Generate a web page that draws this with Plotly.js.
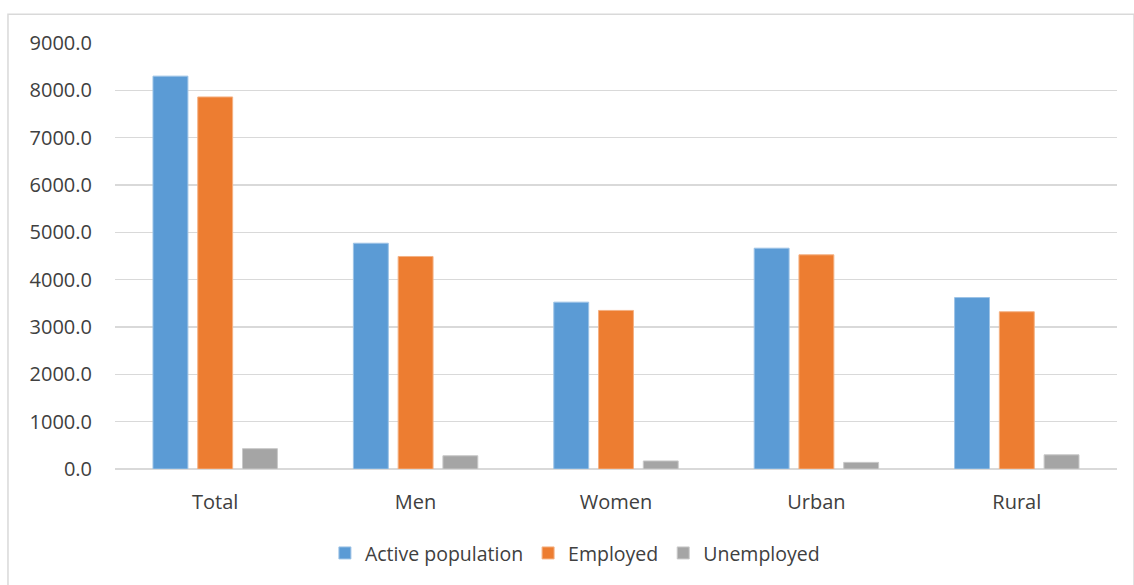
<!DOCTYPE html>
<html>
<head>
<meta charset="utf-8">
<script src="https://cdn.plot.ly/plotly-3.0.1.min.js"></script>
<style>
  html, body { margin: 0; padding: 0; background: #ffffff; }
  #chart { width: 1134px; height: 585px; }
</style>
</head>
<body>
<div id="chart"></div>
<script>
// Labour force by group (thousands)
const categories = ["Total", "Men", "Women", "Urban", "Rural"];
const activePopulation = [8300, 4770, 3525, 4665, 3622];
const employed = [7860, 4490, 3350, 4525, 3322];
const unemployed = [430, 280, 170, 140, 300];
const seriesNames = ["Active population", "Employed", "Unemployed"];
const seriesColors = ["#5B9BD5", "#ED7D31", "#A5A5A5"];
const edgeColors = ["#9DC3E6", "#F4B183", "#C9C9C9"];
const yTicks = [0, 1000, 2000, 3000, 4000, 5000, 6000, 7000, 8000, 9000];

const seriesValues = [activePopulation, employed, unemployed];
const traces = seriesValues.map((vals, i) => ({
  type: "bar",
  name: seriesNames[i],
  x: categories,
  y: vals,
  marker: { color: seriesColors[i], line: { color: edgeColors[i], width: 1 } },
  hoverinfo: "x+y+name"
}));

const fontFamily = "'Open Sans', 'Noto Sans', sans-serif";
const textColor = "#404040";

const layout = {
  width: 1134,
  height: 585,
  margin: { l: 115, r: 17, t: 43, b: 114, pad: 0 },
  paper_bgcolor: "#ffffff",
  plot_bgcolor: "#ffffff",
  barmode: "group",
  bargap: 0.33,
  bargroupgap: 0.22,
  font: { family: fontFamily, color: textColor, size: 20 },
  xaxis: {
    type: "category",
    showgrid: false,
    showline: false,
    ticks: "",
    tickfont: { size: 20, color: textColor },
    ticklabelstandoff: 19
  },
  yaxis: {
    range: [0, 9000],
    tickvals: yTicks,
    ticktext: yTicks.map(v => v.toFixed(1)),
    showgrid: true,
    gridcolor: "#D9D9D9",
    gridwidth: 1.5,
    zeroline: true,
    zerolinecolor: "#D9D9D9",
    zerolinewidth: 1.5,
    showline: false,
    ticks: "",
    ticklabelstandoff: 22,
    tickfont: { size: 20, color: textColor }
  },
  legend: {
    orientation: "h",
    x: 0.459,
    xanchor: "center",
    y: -0.152,
    yanchor: "top",
    font: { size: 19.5, color: textColor },
    itemwidth: 30,
    traceorder: "normal"
  },
  shapes: [{
    type: "rect",
    xref: "paper",
    yref: "paper",
    x0: -0.1068,
    x1: 1.017,
    y0: -0.4,
    y1: 1.0677,
    line: { color: "#D9D9D9", width: 1.5 },
    fillcolor: "rgba(0,0,0,0)",
    layer: "below"
  }]
};

Plotly.newPlot("chart", traces, layout, { displayModeBar: false, staticPlot: true });
</script>
</body>
</html>
